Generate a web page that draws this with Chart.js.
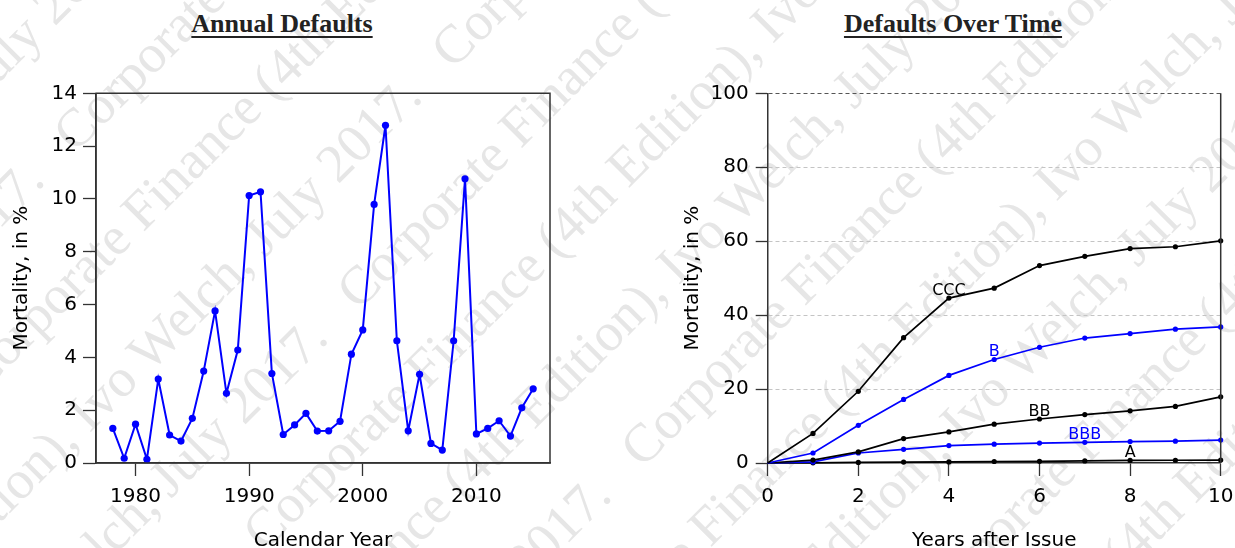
<!DOCTYPE html>
<html>
<head>
<meta charset="utf-8">
<script src="https://cdn.jsdelivr.net/npm/chart.js@4/dist/chart.umd.min.js"></script>
<style>
html, body { margin: 0; padding: 0; background: #fff; }
#page { position: relative; width: 1235px; height: 548px; overflow: hidden; background: #fff; }
#wm { position: absolute; left: -500px; top: -800px; width: 2300px; height: 2200px; transform: rotate(-45deg);
      font-family: "Liberation Serif", serif; font-size: 54px; line-height: 104px; color: #e6e6e6; white-space: nowrap; }
.title { position: absolute; top: 11px; line-height: 26px; transform: translateX(-50%); font-family: "Liberation Serif", serif;
         font-weight: bold; font-size: 26px; color: #222; text-decoration: underline; text-decoration-thickness: 2px;
         text-underline-offset: 4px; white-space: nowrap; }
canvas { position: absolute; top: 0; }
</style>
</head>
<body>
<div id="page">
  <div id="wm"></div>
  <div class="title" style="left:282px">Annual Defaults</div>
  <div class="title" style="left:953px">Defaults Over Time</div>
  <canvas id="left" width="617" height="548" style="left:0"></canvas>
  <canvas id="right" width="650" height="548" style="left:617px"></canvas>
</div>
<script>
// annual default rates (left)
const years = [1978, 1979, 1980, 1981, 1982, 1983, 1984, 1985, 1986, 1987, 1988, 1989, 1990, 1991, 1992, 1993,
    1994, 1995, 1996, 1997, 1998, 1999, 2000, 2001, 2002, 2003, 2004, 2005, 2006, 2007, 2008, 2009, 2010, 2011,
    2012, 2013, 2014, 2015];
const annualDefaults = [1.31, 0.18, 1.47, 0.14, 3.18, 1.06, 0.83, 1.69, 3.48, 5.76, 2.64, 4.28, 10.13, 10.27, 3.39, 1.08,
    1.44, 1.88, 1.21, 1.22, 1.58, 4.12, 5.04, 9.79, 12.79, 4.63, 1.22, 3.36, 0.74, 0.49, 4.63, 10.76, 1.10, 1.31,
    1.60, 1.02, 2.09, 2.81];
const yearTicks = [1980, 1990, 2000, 2010];
const annualTicks = [0, 2, 4, 6, 8, 10, 12, 14];

// cumulative mortality by rating (right)
const yearsAfterIssue = [0, 1, 2, 3, 4, 5, 6, 7, 8, 9, 10];
const cccMort = [0, 8.0, 19.4, 33.9, 44.6, 47.3, 53.4, 55.9, 58.0, 58.5, 60.1];
const bMort = [0, 2.7, 10.2, 17.2, 23.7, 28.0, 31.3, 33.8, 35.0, 36.2, 36.8];
const bbMort = [0, 0.8, 3.0, 6.6, 8.4, 10.5, 11.9, 13.1, 14.1, 15.3, 17.9];
const bbbMort = [0, 0.3, 2.7, 3.7, 4.7, 5.1, 5.4, 5.6, 5.8, 5.9, 6.2];
const aMort = [0, 0.05, 0.15, 0.25, 0.3, 0.4, 0.45, 0.55, 0.7, 0.75, 0.8];
const ratingNames = ['CCC', 'B', 'BB', 'BBB', 'A'];
const ratingLabelYear = [4, 5, 6, 7, 8];
const issueTicks = [0, 2, 4, 6, 8, 10];
const mortTicks = [0, 20, 40, 60, 80, 100];

// watermark
const wmPhrase = 'Corporate Finance (4th Edition), Ivo Welch, July 2017.\u00a0\u00a0 ';
let wmHtml = '';
for (let i = 0; i < 22; i++) {
    wmHtml += '<div style="margin-left:' + (-((i * 237) % 800)) + 'px">' + wmPhrase.repeat(5) + '</div>';
}
document.getElementById('wm').innerHTML = wmHtml;

Chart.defaults.font.family = '"DejaVu Sans", sans-serif';
Chart.defaults.color = '#000';

const tickFont = {size: 20, lineHeight: 1.2};
const axisTitleFont = {size: 20, lineHeight: 0.7};
const axisColor = '#333';

const boxPlugin = {
    id: 'box',
    afterDraw(chart, args, opts) {
        const a = chart.chartArea, ctx = chart.ctx;
        ctx.save();
        ctx.strokeStyle = axisColor;
        ctx.lineWidth = 1.5;
        ctx.beginPath();
        if (opts.full) {
            ctx.rect(a.left, a.top, a.right - a.left, a.bottom - a.top);
        } else {
            ctx.moveTo(a.right, a.top);
            ctx.lineTo(a.right, a.bottom);
        }
        ctx.stroke();
        ctx.restore();
    }
};

const seriesLabelPlugin = {
    id: 'seriesLabels',
    afterDatasetsDraw(chart) {
        const ctx = chart.ctx;
        ctx.save();
        ctx.font = '16px "DejaVu Sans", sans-serif';
        ctx.textAlign = 'center';
        ctx.textBaseline = 'alphabetic';
        chart.data.datasets.forEach((ds, i) => {
            const pt = chart.getDatasetMeta(i).data[ratingLabelYear[i]];
            ctx.fillStyle = ds.borderColor;
            ctx.fillText(ratingNames[i], pt.x, pt.y - 3);
        });
        ctx.restore();
    }
};

new Chart(document.getElementById('left').getContext('2d'), {
    type: 'line',
    data: {
        labels: years,
        datasets: [{
            data: annualDefaults,
            borderColor: '#0000ff',
            backgroundColor: '#0000ff',
            borderWidth: 2,
            pointRadius: 3.6,
            pointBorderWidth: 0,
            tension: 0,
            clip: false
        }]
    },
    options: {
        responsive: false,
        animation: false,
        devicePixelRatio: 1,
        layout: {padding: {left: 0, right: 67, top: 93.3, bottom: 0}},
        plugins: {legend: {display: false}, tooltip: {enabled: false}, box: {full: true}},
        scales: {
            x: {
                type: 'linear',
                min: 1976.52,
                max: 2016.48,
                afterFit: s => { s.height = 85; },
                afterBuildTicks: s => { s.ticks = yearTicks.map(v => ({value: v})); },
                ticks: {font: tickFont, padding: 9, maxRotation: 0, callback: v => String(v)},
                grid: {drawOnChartArea: false, tickLength: 13, tickColor: axisColor, tickWidth: 1.3},
                border: {color: axisColor, width: 1.5},
                title: {display: true, text: 'Calendar Year', font: axisTitleFont, padding: {top: 0, bottom: 0}}
            },
            y: {
                min: 0,
                max: 14,
                afterFit: s => { s.width = 96; },
                afterBuildTicks: s => { s.ticks = annualTicks.map(v => ({value: v})); },
                ticks: {font: tickFont, padding: 6},
                grid: {drawOnChartArea: false, tickLength: 13, tickColor: axisColor, tickWidth: 1.3},
                border: {color: axisColor, width: 1.5},
                title: {display: true, text: 'Mortality, in %', font: {size: 20, lineHeight: 1.2}, padding: {top: 10, bottom: 0}}
            }
        }
    },
    plugins: [boxPlugin]
});

function ratingSet(values, color) {
    return {
        data: values,
        borderColor: color,
        backgroundColor: color,
        borderWidth: 1.7,
        pointRadius: c => (c.dataIndex === 0 ? 0 : 2.6),
        pointBorderWidth: 0,
        tension: 0,
        clip: false
    };
}

new Chart(document.getElementById('right').getContext('2d'), {
    type: 'line',
    data: {
        labels: yearsAfterIssue,
        datasets: [
            ratingSet(cccMort, '#000000'),
            ratingSet(bMort, '#0000ff'),
            ratingSet(bbMort, '#000000'),
            ratingSet(bbbMort, '#0000ff'),
            ratingSet(aMort, '#000000')
        ]
    },
    options: {
        responsive: false,
        animation: false,
        devicePixelRatio: 1,
        layout: {padding: {left: 0, right: 46.3, top: 93.3, bottom: 0}},
        plugins: {legend: {display: false}, tooltip: {enabled: false}, box: {full: false}},
        scales: {
            x: {
                type: 'linear',
                min: 0,
                max: 10,
                afterFit: s => { s.height = 85; },
                afterBuildTicks: s => { s.ticks = issueTicks.map(v => ({value: v})); },
                ticks: {font: tickFont, padding: 9, maxRotation: 0},
                grid: {drawOnChartArea: false, tickLength: 13, tickColor: axisColor, tickWidth: 1.3},
                border: {color: axisColor, width: 1.5},
                title: {display: true, text: 'Years after Issue', font: axisTitleFont, padding: {top: 0, bottom: 0}}
            },
            y: {
                min: 0,
                max: 100,
                afterFit: s => { s.width = 150.7; },
                afterBuildTicks: s => { s.ticks = mortTicks.map(v => ({value: v})); },
                ticks: {font: tickFont, padding: 7},
                grid: {
                    tickLength: 12,
                    tickColor: axisColor,
                    tickWidth: 1.3,
                    lineWidth: 1,
                    color: c => (c.tick && c.tick.value === 100 ? '#555' : (c.tick && c.tick.value === 0 ? 'rgba(0,0,0,0)' : '#c4c4c4'))
                },
                border: {color: axisColor, width: 1.5, dash: [4, 3]},
                title: {display: true, text: 'Mortality, in %', font: {size: 20, lineHeight: 1.2}, padding: {top: 64, bottom: 0}}
            }
        }
    },
    plugins: [boxPlugin, seriesLabelPlugin]
});
</script>
</body>
</html>
